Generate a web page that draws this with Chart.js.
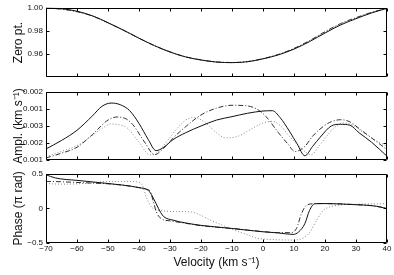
<!DOCTYPE html>
<html>
<head>
    <title>Zero point, amplitude and phase</title>
    <script src="https://cdn.jsdelivr.net/npm/chart.js@4"></script>
    <style>
        body { margin: 0; background: #fff; }
        #wrap { position: relative; width: 394px; height: 275px; }
        canvas { position: absolute; left: 0; }
    </style>
</head>
<body>
<div id="wrap">
    <canvas id="zeroChart" width="394" height="85" style="top:0px"></canvas>
    <canvas id="phaseChart" width="394" height="109" style="top:166px"></canvas>
    <canvas id="amplChart" width="394" height="96" style="top:80px"></canvas>
</div>

<script>
    // velocity ticks (km/s)
    const xTicks = [-70, -60, -50, -40, -30, -20, -10, 0, 10, 20, 30, 40];

    // --- zero point panel ---
    const zeroVel = [-70, -65, -60, -55, -50, -45, -40, -35, -30, -25, -20, -15, -10, -5, 0, 5, 10, 15, 20, 25, 30, 35, 40];
    const zeroSolid   = [1.000, 0.9993, 0.9970, 0.9930, 0.9870, 0.9805, 0.9735, 0.9670, 0.9615, 0.9572, 0.9545, 0.9527, 0.9522, 0.9530, 0.9555, 0.9590, 0.9640, 0.9705, 0.9780, 0.9850, 0.9905, 0.9955, 0.9995];
    const zeroDashDot = [0.9998, 0.9988, 0.9966, 0.9928, 0.9869, 0.9804, 0.9735, 0.9670, 0.9616, 0.9573, 0.9546, 0.9528, 0.9523, 0.9531, 0.9557, 0.9594, 0.9646, 0.9714, 0.9792, 0.9862, 0.9914, 0.9960, 0.9996];
    const zeroDotted  = [0.9997, 0.9987, 0.9965, 0.9927, 0.9868, 0.9803, 0.9734, 0.9669, 0.9615, 0.9572, 0.9545, 0.9527, 0.9522, 0.9530, 0.9556, 0.9592, 0.9644, 0.9711, 0.9788, 0.9858, 0.9910, 0.9958, 0.9996];
    const zeroTicks = [0.96, 0.98, 1.00];

    // --- amplitude panel (values on the tick index scale) ---
    const amplTickLabels = ['0.001', '0.002', '0.003', '0.001', '0.002'];
    const amplSolidVel = [-70, -65, -60, -55, -52, -49, -46, -43, -40, -37, -34.5, -32, -29, -25, -20, -15, -10, -5, 0, 3, 5.5, 8.5, 11, 13.5, 16, 18.5, 22, 25, 28, 31, 35, 40];
    const amplSolid    = [0.65, 1.15, 1.75, 2.6, 3.15, 3.35, 3.25, 2.9, 2.15, 1.2, 0.55, 0.75, 1.2, 1.6, 2.0, 2.35, 2.55, 2.75, 2.88, 2.9, 2.5, 1.7, 0.95, 0.25, 0.8, 1.35, 2.0, 2.1, 2.05, 1.6, 1.05, 0.22];
    const amplDashDotVel = [-70, -65, -60, -55, -50, -47, -44, -42, -38, -35, -32, -29, -25, -20, -15, -10, -5, -2, 1, 5, 8, 10.3, 13.5, 16, 19.5, 22, 25, 28, 31, 35, 40];
    const amplDashDot    = [0.12, 0.4, 0.75, 1.5, 2.35, 2.53, 2.4, 2.08, 1.0, 0.31, 0.7, 1.29, 1.95, 2.65, 3.05, 3.22, 3.18, 3.0, 2.55, 1.6, 0.95, 0.5, 0.8, 1.4, 1.98, 2.25, 2.37, 2.25, 1.85, 1.3, 0.61];
    const amplDottedVel = [-70, -65, -60, -55, -52, -49, -46, -44, -40, -36.5, -34, -31, -27, -24, -22, -18, -15, -12, -8, -4, 0, 3, 6, 8, 12, 15.5, 18, 20.5, 23, 26, 29, 32, 36, 40];
    const amplDotted    = [0.2, 0.5, 0.85, 1.45, 1.85, 2.12, 2.05, 1.92, 1.05, 0.31, 0.45, 1.1, 2.0, 2.45, 2.5, 2.1, 1.6, 1.3, 1.4, 1.8, 2.18, 2.27, 1.95, 1.5, 0.75, 0.31, 0.8, 1.39, 1.9, 2.18, 2.05, 1.65, 1.2, 0.8];

    // --- phase panel (pi rad) ---
    const phaseTicks = [-0.5, 0, 0.5];
    const phaseSolidVel = [-70, -67, -60, -50, -45, -40, -37, -36, -34.5, -33, -32, -29, -25, -20, -10, 0, 5, 9.7, 11.5, 13.5, 15, 16.7, 20, 30, 35, 38, 40];
    const phaseSolid    = [0.486, 0.44, 0.405, 0.36, 0.335, 0.30, 0.26, 0.2, 0.07, -0.06, -0.12, -0.17, -0.21, -0.245, -0.29, -0.338, -0.355, -0.376, -0.34, -0.22, -0.03, 0.067, 0.07, 0.053, 0.04, 0.02, -0.005];
    const phaseDashDotVel = [-70, -65, -60, -55, -50, -45, -40, -37.5, -36.5, -35.5, -34.4, -32.8, -30, -25, -20, -10, 0, 5, 9, 10.8, 12.4, 14, 16.2, 20, 30, 35, 40];
    const phaseDashDot    = [0.39, 0.385, 0.375, 0.365, 0.355, 0.335, 0.30, 0.275, 0.255, 0.12, -0.05, -0.15, -0.18, -0.215, -0.25, -0.29, -0.335, -0.35, -0.35, -0.29, -0.076, 0.043, 0.067, 0.07, 0.055, 0.04, 0.0];
    const phaseDottedVel = [-70, -65, -60, -55, -50, -45, -41, -39, -37.6, -36, -33.3, -28, -23.5, -20, -17, -13, -9.6, -5, -2, 3, 9.7, 12.9, 15, 17.3, 19.4, 21.5, 23.7, 30, 40];
    const phaseDotted    = [0.36, 0.35, 0.355, 0.37, 0.39, 0.39, 0.385, 0.34, 0.16, 0.02, -0.03, -0.045, -0.05, -0.1, -0.17, -0.245, -0.31, -0.38, -0.43, -0.45, -0.457, -0.43, -0.35, -0.17, -0.03, 0.02, 0.043, 0.06, 0.067];

    Chart.defaults.font.family = '"Liberation Sans", Arial, sans-serif';
    Chart.defaults.font.size = 8;
    Chart.defaults.color = '#111';

    const pts = (xs, ys) => xs.map((x, i) => ({ x: x, y: ys[i] }));
    const minus = s => String(s).replace('-', '\u2212');

    function lines(solid, dashDot, dotted) {
        const base = { pointRadius: 0, borderWidth: 1, fill: false, cubicInterpolationMode: 'monotone' };
        return [
            Object.assign({ data: solid, borderColor: '#111' }, base),
            Object.assign({ data: dashDot, borderColor: '#333', borderDash: [5, 2, 1, 2] }, base),
            Object.assign({ data: dotted, borderColor: '#888', borderDash: [1, 2] }, base)
        ];
    }

    // box round the plot area with inward tick marks on all four sides
    const framePlugin = {
        id: 'frame',
        afterDraw(chart) {
            const { ctx, chartArea: a, scales } = chart;
            const L = Math.round(a.left) + 0.5, R = Math.round(a.right) - 0.5;
            const T = Math.round(a.top) + 0.5, B = Math.round(a.bottom) - 0.5;
            ctx.save();
            ctx.strokeStyle = '#000';
            ctx.lineWidth = 1;
            ctx.beginPath();
            ctx.rect(L, T, R - L, B - T);
            xTicks.forEach(v => {
                const px = Math.round(scales.x.getPixelForValue(v)) + 0.5;
                ctx.moveTo(px, T); ctx.lineTo(px, T + 3);
                ctx.moveTo(px, B); ctx.lineTo(px, B - 3);
            });
            scales.y.ticks.forEach(t => {
                const py = Math.round(scales.y.getPixelForValue(t.value)) + 0.5;
                ctx.moveTo(L, py); ctx.lineTo(L + 3, py);
                ctx.moveTo(R, py); ctx.lineTo(R - 3, py);
            });
            ctx.stroke();
            ctx.restore();
        }
    };

    function makeChart(id, datasets, yOpts, showX, topPad, bottomPad) {
        return new Chart(document.getElementById(id), {
            type: 'line',
            data: { datasets: datasets },
            plugins: [framePlugin],
            options: {
                responsive: false,
                animation: false,
                devicePixelRatio: 1,
                layout: { padding: { top: topPad, right: 7, bottom: bottomPad, left: 0 } },
                plugins: { legend: { display: false }, tooltip: { enabled: false } },
                scales: {
                    x: {
                        type: 'linear', min: -70, max: 40,
                        grid: { display: false, drawTicks: false },
                        border: { display: false },
                        afterBuildTicks: s => { s.ticks = xTicks.map(v => ({ value: v })); },
                        afterFit: s => { s.height = showX ? 32 : 0; },
                        ticks: { display: showX, padding: 1, maxRotation: 0, autoSkip: false, callback: v => minus(v) },
                        title: {
                            display: showX, text: 'Velocity (km s\u207B\u00B9)',
                            font: { size: 12 }, padding: { top: 0, bottom: 5 }
                        }
                    },
                    y: Object.assign({
                        grid: { display: false, drawTicks: false },
                        border: { display: false },
                        afterFit: s => { s.width = 46; }
                    }, yOpts)
                }
            }
        });
    }

    makeChart('zeroChart',
        lines(pts(zeroVel, zeroSolid), pts(zeroVel, zeroDashDot), pts(zeroVel, zeroDotted)),
        {
            min: 0.9395, max: 1.0,
            afterBuildTicks: s => { s.ticks = zeroTicks.map(v => ({ value: v })); },
            ticks: { padding: 3, callback: v => v.toFixed(2) },
            title: { display: true, text: 'Zero pt.', font: { size: 12 }, padding: { top: 11, bottom: 0 } }
        }, false, 7, 7);

    makeChart('amplChart',
        lines(pts(amplSolidVel, amplSolid), pts(amplDashDotVel, amplDashDot), pts(amplDottedVel, amplDotted)),
        {
            min: 0, max: 4,
            afterBuildTicks: s => { s.ticks = amplTickLabels.map((l, i) => ({ value: i })); },
            ticks: { padding: 3, callback: v => amplTickLabels[v] },
            title: { display: true, text: 'Ampl. (km s\u207B\u00B9)', font: { size: 12 }, padding: { top: 11, bottom: 0 } }
        }, false, 12, 16);

    makeChart('phaseChart',
        lines(pts(phaseSolidVel, phaseSolid), pts(phaseDashDotVel, phaseDashDot), pts(phaseDottedVel, phaseDotted)),
        {
            min: -0.5, max: 0.5,
            afterBuildTicks: s => { s.ticks = phaseTicks.map(v => ({ value: v })); },
            ticks: { padding: 3, callback: v => minus(v) },
            title: { display: true, text: 'Phase (\u03C0 rad)', font: { size: 12 }, padding: { top: 11, bottom: 0 } }
        }, true, 7, 0);
</script>
</body>
</html>
